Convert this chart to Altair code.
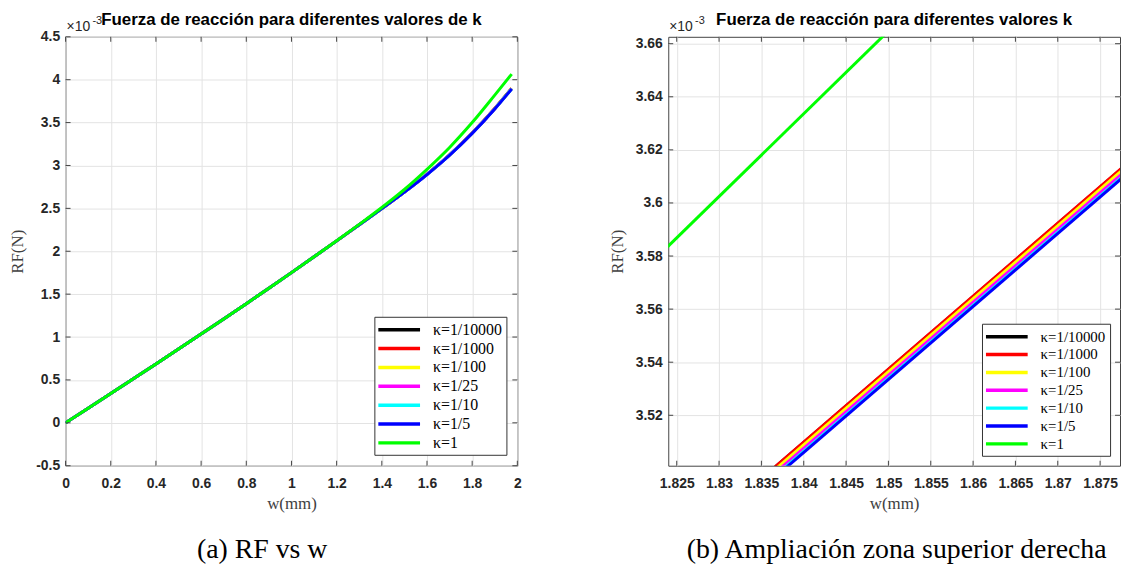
import altair as alt
import pandas as pd

SERIES = ["κ=1/10000", "κ=1/1000", "κ=1/100", "κ=1/25", "κ=1/10", "κ=1/5", "κ=1"]
COLORS = ["#000000", "#ff0000", "#ffff00", "#ff00ff", "#00ffff", "#0000ff", "#00ff00"]

# ---- panel (a): RF vs w ----
W_A = [0.0, 0.1, 0.2, 0.3, 0.4, 0.5, 0.6, 0.7, 0.8, 0.9, 1.0, 1.1, 1.2, 1.3, 1.4,
       1.5, 1.6, 1.7, 1.8, 1.9, 1.975]
RF_A_K10000 = [0, 0.17, 0.341, 0.513, 0.686, 0.86, 1.035, 1.211, 1.389, 1.569, 1.751,
               1.935, 2.121, 2.309, 2.498, 2.691, 2.897, 3.123, 3.379, 3.665, 3.899]
RF_A_K1000 = [0, 0.17, 0.341, 0.513, 0.686, 0.86, 1.035, 1.211, 1.389, 1.569, 1.751,
              1.935, 2.121, 2.309, 2.498, 2.691, 2.897, 3.123, 3.378, 3.664, 3.898]
RF_A_K100 = [0, 0.17, 0.341, 0.513, 0.686, 0.86, 1.035, 1.211, 1.389, 1.569, 1.751,
             1.935, 2.121, 2.309, 2.498, 2.690, 2.896, 3.122, 3.377, 3.663, 3.897]
RF_A_K25 = [0, 0.17, 0.341, 0.513, 0.686, 0.86, 1.035, 1.211, 1.389, 1.569, 1.751,
            1.935, 2.121, 2.309, 2.497, 2.690, 2.895, 3.121, 3.376, 3.661, 3.895]
RF_A_K10 = [0, 0.17, 0.341, 0.513, 0.686, 0.86, 1.035, 1.211, 1.389, 1.569, 1.751,
            1.935, 2.121, 2.309, 2.497, 2.689, 2.894, 3.120, 3.375, 3.660, 3.893]
RF_A_K5 = [0, 0.17, 0.341, 0.513, 0.686, 0.86, 1.035, 1.211, 1.389, 1.569, 1.751,
           1.935, 2.121, 2.309, 2.497, 2.689, 2.894, 3.119, 3.374, 3.659, 3.892]
RF_A_K1 = [0, 0.17, 0.341, 0.513, 0.686, 0.86, 1.035, 1.211, 1.389, 1.569, 1.751,
           1.935, 2.122, 2.313, 2.51, 2.72, 2.955, 3.21, 3.50, 3.82, 4.065]

# ---- panel (b): zoom on upper right ----
W_B = [1.834, 1.878]
RF_B_K10000 = [3.4933, 3.6142]
RF_B_K1000 = [3.4934, 3.6144]
RF_B_K100 = [3.4924, 3.6134]
RF_B_K25 = [3.4911, 3.6121]
RF_B_K10 = [3.4900, 3.6110]
RF_B_K5 = [3.4895, 3.6105]
W_B_K1 = [1.823, 1.850]
RF_B_K1 = [3.5806, 3.6648]

XTICKS_A = [0, 0.2, 0.4, 0.6, 0.8, 1, 1.2, 1.4, 1.6, 1.8, 2]
YTICKS_A = [-0.5, 0, 0.5, 1, 1.5, 2, 2.5, 3, 3.5, 4, 4.5]
XTICKS_B = [1.825, 1.83, 1.835, 1.84, 1.845, 1.85, 1.855, 1.86, 1.865, 1.87, 1.875]
YTICKS_B = [3.52, 3.54, 3.56, 3.58, 3.6, 3.62, 3.64, 3.66]

TITLE_A = "Fuerza de reacción para diferentes valores de k"
TITLE_B = "Fuerza de reacción para diferentes valores k"
CAPTION_A = "(a) RF vs w"
CAPTION_B = "(b) Ampliación zona superior derecha"

SERIES_A = [
    (SERIES[0], W_A, RF_A_K10000), (SERIES[1], W_A, RF_A_K1000),
    (SERIES[2], W_A, RF_A_K100), (SERIES[3], W_A, RF_A_K25),
    (SERIES[4], W_A, RF_A_K10), (SERIES[5], W_A, RF_A_K5),
    (SERIES[6], W_A, RF_A_K1),
]
SERIES_B = [
    (SERIES[0], W_B, RF_B_K10000), (SERIES[1], W_B, RF_B_K1000),
    (SERIES[2], W_B, RF_B_K100), (SERIES[3], W_B, RF_B_K25),
    (SERIES[4], W_B, RF_B_K10), (SERIES[5], W_B, RF_B_K5),
    (SERIES[6], W_B_K1, RF_B_K1),
]

TXT = "#262626"
W, H = 455, 432


def axis(values, title, orient):
    common = dict(
        values=values, title=title, labelExpr="'' + datum.value",
        labelFont="Liberation Sans", labelFontWeight="bold", labelFontSize=14,
        labelColor=TXT, ticks=False, domain=False, grid=True,
        gridColor="#e3e3e3", gridWidth=1, labelOverlap=False,
        titleFont="Liberation Serif", titleFontWeight="normal", titleFontSize=17,
        titleColor="#404040",
    )
    if orient == "x":
        common.update(labelFlush=False, labelPadding=11, titlePadding=5)
    else:
        common.update(labelPadding=6, titlePadding=9)
    return alt.Axis(**common)


def panel(series, xdom, ydom, xt, yt, title, caption, cap_x, leg_off, leg_font, leg_rp):
    x = alt.X("w:Q", scale=alt.Scale(domain=xdom, nice=False, zero=False),
              axis=axis(xt, "w(mm)", "x"))
    y = alt.Y("rf:Q", scale=alt.Scale(domain=ydom, nice=False, zero=False),
              axis=axis(yt, "RF(N)", "y"))
    color = alt.Color(
        "serie:N",
        scale=alt.Scale(domain=SERIES, range=COLORS),
        legend=alt.Legend(
            title=None, orient="bottom-right", offset=leg_off,
            symbolType="M-3,0H3", symbolSize=196, symbolStrokeWidth=3.5,
            symbolOffset=12, labelOffset=25,
            labelFont="Liberation Serif", labelFontSize=leg_font, labelColor="#000",
            strokeColor="#333", fillColor="white", padding=4, rowPadding=leg_rp,
            cornerRadius=0,
        ),
    )
    layers = []
    for name, xs, ys in series:
        df = pd.DataFrame({"w": xs, "rf": ys, "serie": name})
        layers.append(
            alt.Chart(df).mark_line(strokeWidth=3, clip=True, interpolate="monotone")
            .encode(x=x, y=y, color=color)
        )
    xt_df = pd.DataFrame({"w": xt})
    yt_df = pd.DataFrame({"rf": yt})
    tick_col = "#444"
    layers += [
        alt.Chart(xt_df).mark_rule(color=tick_col).encode(x=x, y=alt.value(H), y2=alt.value(H - 5)),
        alt.Chart(xt_df).mark_rule(color=tick_col).encode(x=x, y=alt.value(0), y2=alt.value(5)),
        alt.Chart(yt_df).mark_rule(color=tick_col).encode(y=y, x=alt.value(0), x2=alt.value(5)),
        alt.Chart(yt_df).mark_rule(color=tick_col).encode(y=y, x=alt.value(W - 5), x2=alt.value(W)),
    ]
    t_df = pd.DataFrame({"t": [title]})
    layers.append(
        alt.Chart(t_df).mark_text(font="Liberation Sans", fontWeight="bold", fontSize=17,
                                  color="#000", baseline="middle", align="center")
        .encode(text="t:N", x=alt.value(W / 2), y=alt.value(-17))
    )
    e_df = pd.DataFrame({"a": ["×10"], "b": ["-3"]})
    layers.append(
        alt.Chart(e_df).mark_text(font="Liberation Sans", fontSize=14, color=TXT,
                                  baseline="alphabetic", align="left")
        .encode(text="a:N", x=alt.value(1), y=alt.value(-6))
    )
    layers.append(
        alt.Chart(e_df).mark_text(font="Liberation Sans", fontSize=11, color=TXT,
                                  baseline="alphabetic", align="left")
        .encode(text="b:N", x=alt.value(27), y=alt.value(-13))
    )
    c_df = pd.DataFrame({"c": [caption]})
    layers.append(
        alt.Chart(c_df).mark_text(font="Liberation Serif", fontSize=28, color="#000",
                                  baseline="middle", align="center")
        .encode(text="c:N", x=alt.value(cap_x), y=alt.value(517))
    )
    return alt.layer(*layers).properties(width=W, height=H)


left = panel(SERIES_A, [0, 2], [-0.5, 4.5], XTICKS_A, YTICKS_A, TITLE_A, CAPTION_A,
             198, 11, 16, 2)
right = panel(SERIES_B, [1.824, 1.87735], [3.501, 3.6626], XTICKS_B, YTICKS_B, TITLE_B,
              CAPTION_B, 230, 10, 15, 1)

chart = (
    alt.hconcat(left, right, spacing=152, bounds="flush")
    .resolve_scale(x="independent", y="independent", color="independent")
    .resolve_legend(color="independent")
    .properties(padding={"left": 0, "top": 0, "right": 0, "bottom": 0})
    .configure_view(stroke="#444", strokeWidth=1)
)

chart.save("out.html", embed_options={"renderer": "svg", "actions": False})
